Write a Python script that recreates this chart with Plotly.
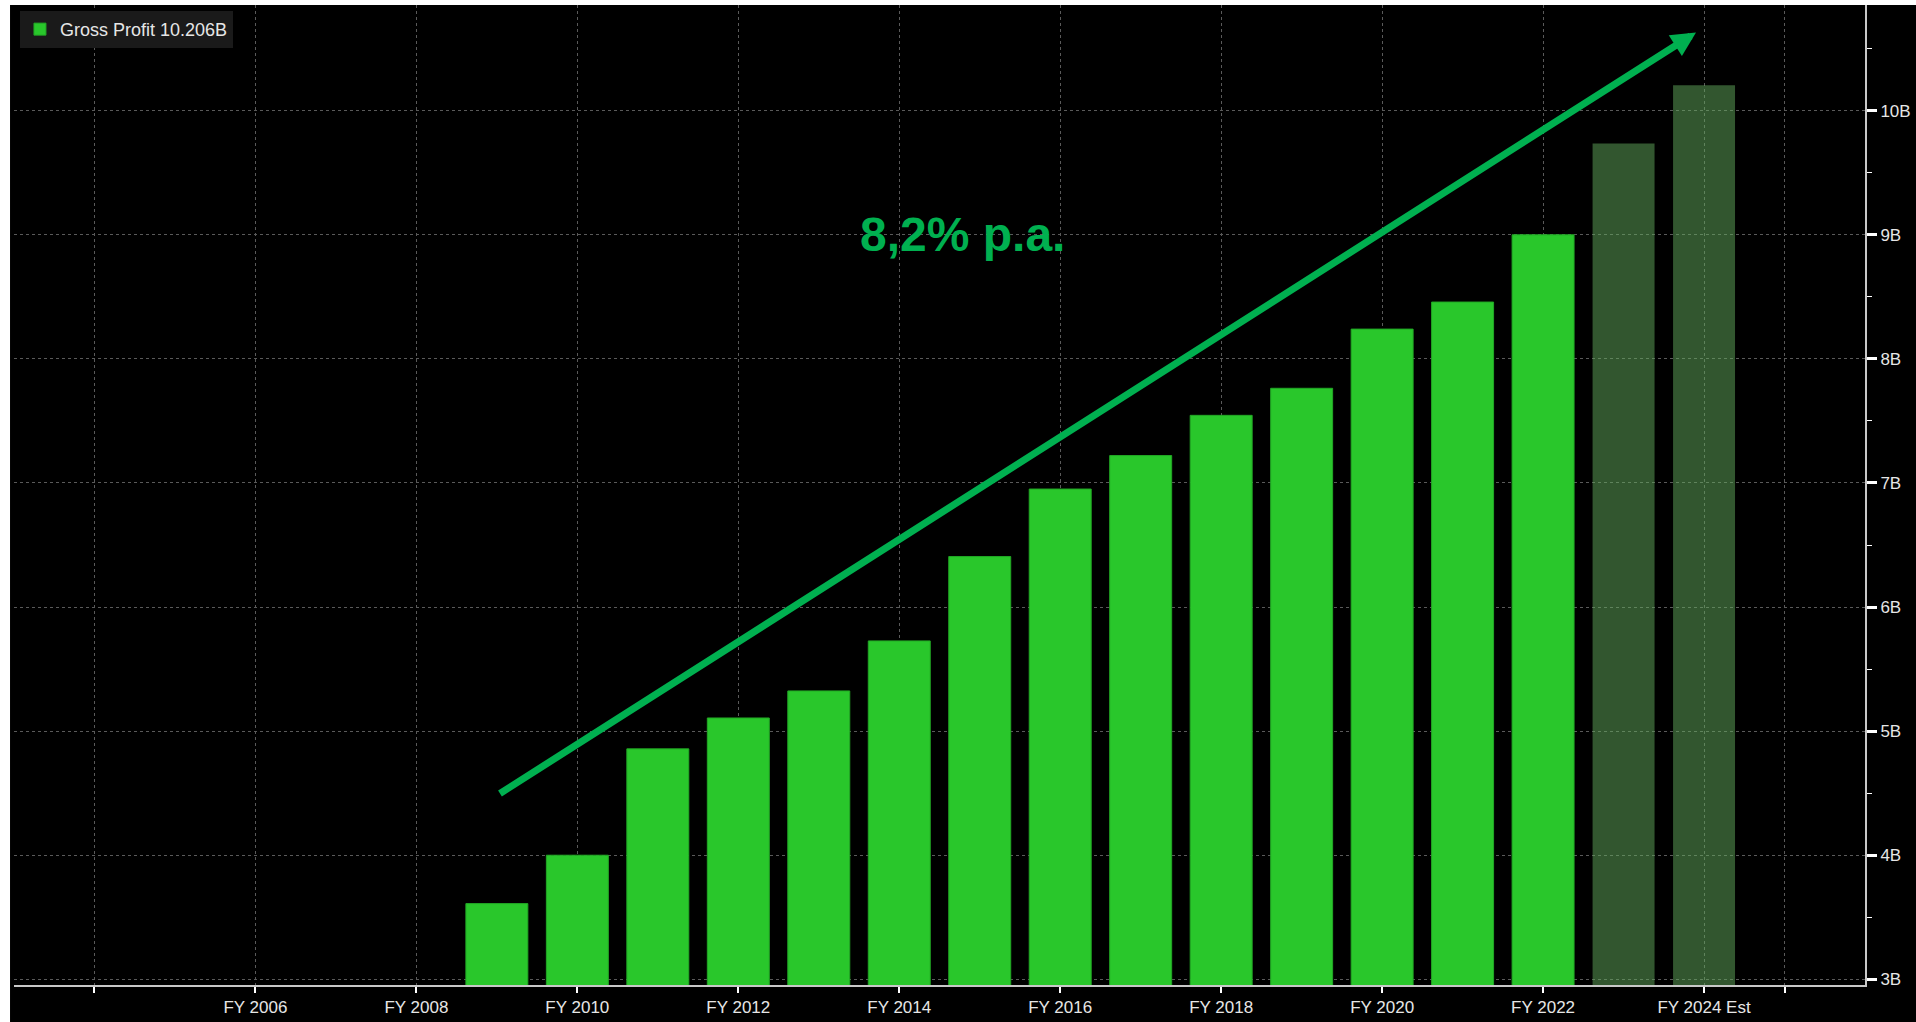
import plotly.graph_objects as go

# ---------------- data ----------------
years = [2009, 2010, 2011, 2012, 2013, 2014, 2015, 2016,
         2017, 2018, 2019, 2020, 2021, 2022, 2023, 2024]
gross_profit_b = [3.61, 4.00, 4.857, 5.106, 5.324, 5.727, 6.407, 6.951,
                  7.221, 7.545, 7.763, 8.240, 8.458, 9.000, 9.735, 10.206]
is_estimate = [False] * 14 + [True] * 2

x_tick_years = [2004, 2006, 2008, 2010, 2012, 2014, 2016, 2018, 2020, 2022, 2024, 2025]
x_tick_labels = ["", "FY 2006", "FY 2008", "FY 2010", "FY 2012", "FY 2014",
                 "FY 2016", "FY 2018", "FY 2020", "FY 2022", "FY 2024 Est", ""]
y_tick_values = [3, 4, 5, 6, 7, 8, 9, 10]
y_tick_labels = ["3B", "4B", "5B", "6B", "7B", "8B", "9B", "10B"]

legend_name = "Gross Profit 10.206B"
cagr_label = "8,2% p.a."
trend_start = (2009.02, 4.49)
trend_end = (2023.90, 10.63)

# ---------------- styles ----------------
ACTUAL = "#29c72b"
ESTIMATE = "rgba(100,172,94,0.5)"
ARROW = "#00b050"
GRID = "#5a5a5a"
AXIS = "#c8c8c8"
TXT = "#e6e6e6"
FONT = "Liberation Sans, Arial, sans-serif"

bar_colors = [ESTIMATE if e else ACTUAL for e in is_estimate]
line_colors = ["rgba(0,0,0,0)" if e else "#22a825" for e in is_estimate]

fig = go.Figure()
fig.add_trace(go.Bar(
    x=years, y=gross_profit_b, name=legend_name, width=0.77,
    marker=dict(color=bar_colors, line=dict(color=line_colors, width=1)),
    showlegend=True,
))

fig.add_annotation(
    x=trend_end[0], y=trend_end[1], ax=trend_start[0], ay=trend_start[1],
    xref="x", yref="y", axref="x", ayref="y", text="",
    showarrow=True, arrowhead=2, arrowsize=0.7, arrowwidth=7, arrowcolor=ARROW,
)
fig.add_annotation(
    x=2014.78, y=9.0, xref="x", yref="y", text=cagr_label, showarrow=False,
    xanchor="center", yanchor="middle",
    font=dict(family="Liberation Sans, Arial, sans-serif", size=48, color=ARROW, weight="bold"),
)

# white page strips at top and left edge (as in the screenshot)
fig.add_shape(type="rect", xref="paper", yref="paper", x0=-0.02, x1=-4 / 1863,
              y0=-0.1, y1=1.1, fillcolor="white", line_width=0, layer="below")
fig.add_shape(type="rect", xref="paper", yref="paper", x0=-0.02, x1=1.05,
              y0=1.0, y1=1.02, fillcolor="white", line_width=0, layer="below")

fig.update_layout(
    width=1916, height=1022,
    margin=dict(l=14, r=39, t=5, b=25),
    paper_bgcolor="black", plot_bgcolor="black",
    font=dict(family=FONT, size=17, color=TXT),
    bargap=0.23,
    legend=dict(x=6 / 1863, y=1 - 6 / 992, xanchor="left", yanchor="top",
                bgcolor="#1a1a1a", borderwidth=0,
                font=dict(family=FONT, size=18, color=TXT)),
    xaxis=dict(range=[2003, 2026], tickmode="array", tickvals=x_tick_years,
               ticktext=x_tick_labels, showgrid=True, gridcolor=GRID, gridwidth=1,
               griddash="dot", zeroline=False, showline=True, linecolor=AXIS,
               linewidth=2, ticks="outside", ticklen=6, tickwidth=2, tickcolor="white",
               tickfont=dict(family=FONT, size=17, color=TXT)),
    yaxis=dict(side="right", range=[2.954, 10.852], tickmode="array",
               tickvals=y_tick_values, ticktext=y_tick_labels, showgrid=True,
               gridcolor=GRID, gridwidth=1, griddash="dot", zeroline=False,
               showline=True, linecolor=AXIS, linewidth=2, ticks="outside",
               ticklen=10, tickwidth=3, tickcolor="white",
               tickfont=dict(family=FONT, size=17, color=TXT),
               minor=dict(dtick=0.5, tick0=0.5, ticks="outside", ticklen=5,
                          tickwidth=1, tickcolor="white", showgrid=False)),
)

fig.write_html("out.html", config={"displayModeBar": False},
               post_script="document.body.style.margin='0';document.body.style.overflow='hidden';")
